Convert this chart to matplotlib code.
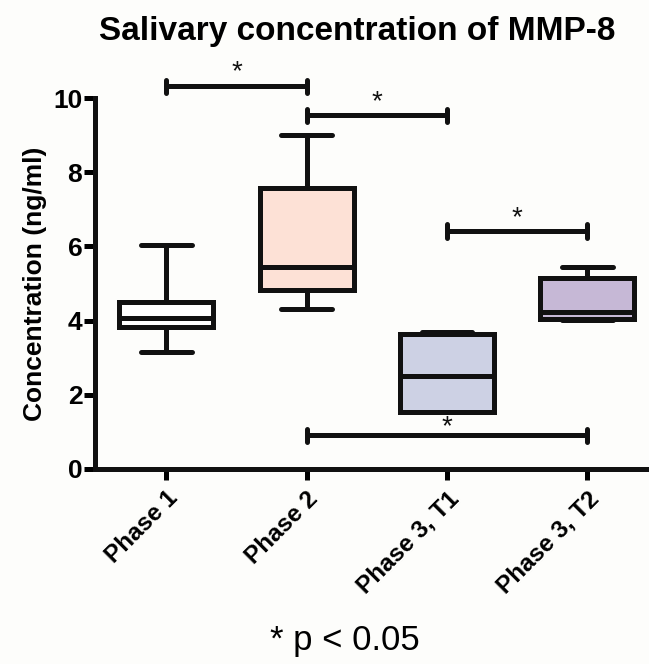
import matplotlib.pyplot as plt

categories = ["Phase 1", "Phase 2", "Phase 3, T1", "Phase 3, T2"]
whislo = [3.15, 4.31, 1.52, 4.02]
q1 = [3.83, 4.82, 1.52, 4.04]
med = [4.07, 5.45, 2.50, 4.22]
q3 = [4.50, 7.57, 3.63, 5.15]
whishi = [6.04, 9.02, 3.68, 5.45]
colors = ["#FFFFFF", "#FDE1D6", "#CDD1E4", "#C6B8D6"]

# significance brackets: (left group, right group, height)
sig_pairs = [(0, 1, 10.32), (1, 2, 9.54), (2, 3, 6.42), (1, 3, 0.9)]
star_gap = [0.04, 0.0, 0.0, -0.12]

plt.rcParams['font.family'] = ['Liberation Sans', 'DejaVu Sans']
fig = plt.figure(figsize=(6.49, 6.64), dpi=100, facecolor="#FDFDFB")
ax = fig.add_axes([0.146, 0.294, 0.85, 0.558])
ax.set_facecolor("#FDFDFB")

stats = []
for i in range(len(categories)):
    stats.append(dict(whislo=whislo[i], q1=q1[i], med=med[i], q3=q3[i],
                      whishi=whishi[i], fliers=[]))

lw = 3.6
bp = ax.bxp(stats, positions=range(len(categories)), widths=0.67,
            patch_artist=True, showfliers=False,
            boxprops=dict(linewidth=lw, edgecolor="#111111"),
            medianprops=dict(linewidth=lw, color="#111111"),
            whiskerprops=dict(linewidth=lw, color="#111111"),
            capprops=dict(linewidth=lw, color="#111111", solid_capstyle="round"),
            capwidths=0.36)
for patch, c in zip(bp["boxes"], colors):
    patch.set_facecolor(c)

for (a, b, h), g in zip(sig_pairs, star_gap):
    ax.plot([a, b], [h, h], color="#111111", lw=lw, clip_on=False, solid_capstyle="butt")
    for x in (a, b):
        ax.plot([x, x], [h - 0.18, h + 0.18], color="#111111", lw=lw,
                clip_on=False, solid_capstyle="round")
    ax.text((a + b) / 2, h + g, "*", ha="center", va="bottom", zorder=10,
            fontsize=20, color="#111111", clip_on=False)

ax.set_xlim(-0.51, 3.42)
ax.set_ylim(0, 10)
ax.set_yticks([0, 2, 4, 6, 8, 10])
ax.set_xticks(range(len(categories)))
ax.set_xticklabels(categories, rotation=45, ha="right", rotation_mode="anchor",
                   fontsize=17.5, fontweight="bold")
for lab in ax.get_yticklabels():
    lab.set_fontweight("bold")
    lab.set_fontsize(19)
ax.tick_params(axis="y", width=lw, length=8, pad=1)
ax.tick_params(axis="x", width=lw, length=8, pad=5)
for s in ["top", "right"]:
    ax.spines[s].set_visible(False)
for s in ["left", "bottom"]:
    ax.spines[s].set_linewidth(lw)
    ax.spines[s].set_color("#111111")

ax.set_ylabel("Concentration (ng/ml)", fontsize=19, fontweight="bold", labelpad=4)
fig.text(0.551, 0.953, "Salivary concentration of MMP-8", ha="center", va="center",
         fontsize=24, fontweight="bold")
fig.text(0.532, 0.035, "* p < 0.05", ha="center", va="center", fontsize=25)

fig.savefig("out.png", dpi=100, facecolor=fig.get_facecolor())
